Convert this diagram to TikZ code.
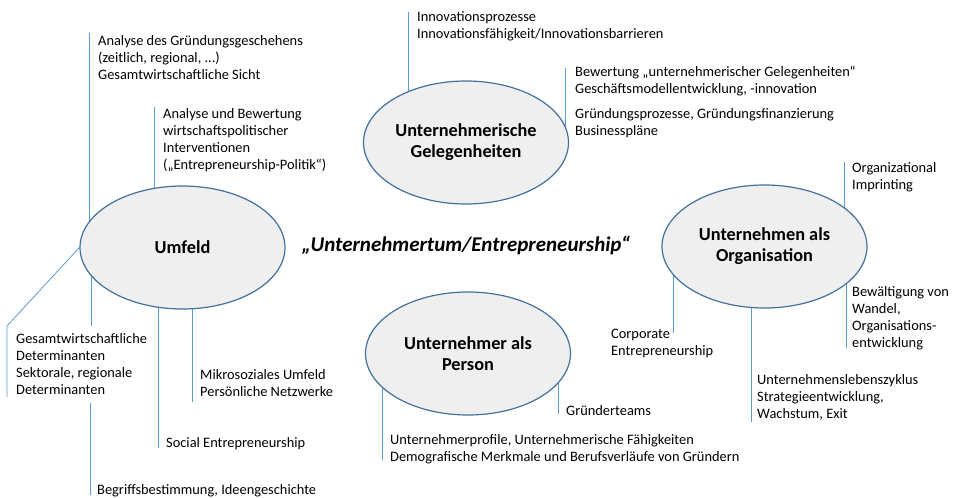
\documentclass[tikz,border=0pt]{standalone}
\usepackage{fontspec}
\setmainfont{Carlito}
\usetikzlibrary{shapes.geometric,backgrounds}
\definecolor{ellborder}{HTML}{41719C}
\definecolor{ellfill}{HTML}{EFEFEF}
\definecolor{linkblue}{HTML}{5B9BD5}
\begin{document}
\begin{tikzpicture}[x=1pt,y=-1pt,
  topic/.style={ellipse, draw=ellborder, fill=ellfill, line width=1.2pt,
    minimum width=205pt, minimum height=123pt, inner sep=0pt, align=center,
    font=\fontsize{18.3}{21}\selectfont\bfseries},
  note/.style={anchor=base west, inner sep=0pt, align=left,
    font=\fontsize{14.4}{17}\selectfont},
  link/.style={draw=linkblue, line width=0.8pt}]
\useasboundingbox (0,0) rectangle (954,498);

% topics
\node[topic] (um) at (182.5,247.5) {Umfeld};
\node[topic] (ge) at (466,142.5) {Unternehmerische\\Gelegenheiten};
\node[topic] (pe) at (468,353.5) {Unternehmer als\\Person};
\node[topic] (or) at (764.5,246.5) {Unternehmen als\\Organisation};

\node[font=\fontsize{21}{24}\selectfont\bfseries\itshape, inner sep=0pt] (title) at (466,245)
  {„Unternehmertum/Entrepreneurship“};

% notes (anchored at the baseline of their last line)
\node[note] (t1) at (98,79) {Analyse des Gründungsgeschehens\\(zeitlich, regional, ...)\\Gesamtwirtschaftliche Sicht};
\node[note] (t2) at (163,169) {Analyse und Bewertung\\wirtschaftspolitischer\\Interventionen\\(„Entrepreneurship-Politik“)};
\node[note] (t3) at (16,394) {Gesamtwirtschaftliche\\Determinanten\\Sektorale, regionale\\Determinanten};
\node[note] (t4) at (97,494) {Begriffsbestimmung, Ideengeschichte};
\node[note] (t5) at (166,447) {Social Entrepreneurship};
\node[note] (t6) at (200,396) {Mikrosoziales Umfeld\\Persönliche Netzwerke};
\node[note] (t7) at (417,38) {Innovationsprozesse\\Innovationsfähigkeit/Innovationsbarrieren};
\node[note] (t8) at (575,135) {Bewertung „unternehmerischer Gelegenheiten“\\Geschäftsmodellentwicklung, -innovation\\[8pt]Gründungsprozesse, Gründungsfinanzierung\\Businesspläne};
\node[note] (t9) at (390,461) {Unternehmerprofile, Unternehmerische Fähigkeiten\\Demografische Merkmale und Berufsverläufe von Gründern};
\node[note] (t10) at (566,415) {Gründerteams};
\node[note] (t11) at (852,189) {Organizational\\Imprinting};
\node[note] (t12) at (852,347) {Bewältigung von\\Wandel,\\Organisations-\\entwicklung};
\node[note] (t13) at (757,418) {Unternehmenslebenszyklus\\Strategieentwicklung,\\Wachstum, Exit};
\node[note] (t14) at (611,355) {Corporate\\Entrepreneurship};

% line ends
\coordinate (c1) at (89,33);
\coordinate (c2) at (154,107);
\coordinate (c3a) at (7,326);
\coordinate (c3b) at (7,397);
\coordinate (c4) at (91,326);
\coordinate (c5a) at (90,403);
\coordinate (c5b) at (90,495);
\coordinate (c6) at (158,448);
\coordinate (c7) at (192,402);
\coordinate (c8) at (408,12);
\coordinate (c9) at (565,68);
\coordinate (c10) at (382,460);
\coordinate (c11) at (558,414);
\coordinate (c12) at (844,162);
\coordinate (c13) at (846,348);
\coordinate (c14) at (751,422);
\coordinate (c15) at (673,333);

\begin{pgfonlayer}{background}
\draw[link] (c1) -- (c1 |- um.center);
\draw[link] (c2) -- (c2 |- um.center);
\draw[link] (um.west) -- (c3a) -- (c3b);
\draw[link] (c4 |- um.center) -- (c4);
\draw[link] (c5a) -- (c5b);
\draw[link] (c6 |- um.center) -- (c6);
\draw[link] (c7 |- um.center) -- (c7);
\draw[link] (c8) -- (c8 |- ge.center);
\draw[link] (c9) -- (c9 |- ge.center);
\draw[link] (c10 |- pe.center) -- (c10);
\draw[link] (c11 |- pe.center) -- (c11);
\draw[link] (c12) -- (c12 |- or.center);
\draw[link] (c13 |- or.center) -- (c13);
\draw[link] (c14 |- or.center) -- (c14);
\draw[link] (c15 |- or.center) -- (c15);
\end{pgfonlayer}
\end{tikzpicture}
\end{document}
